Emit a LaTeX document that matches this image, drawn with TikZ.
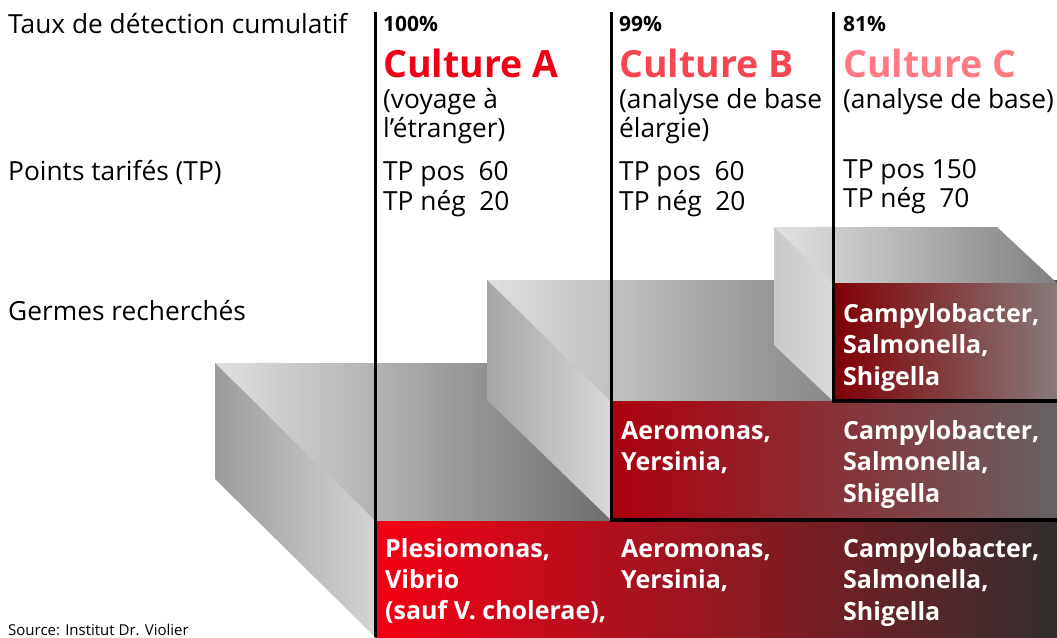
\documentclass[tikz,border=0pt]{standalone}
\usepackage{fontspec}
\setmainfont{Open Sans}
\usepackage{tikz}
\usetikzlibrary{positioning, calc}
\definecolor{cultA}{RGB}{240,0,20}
\definecolor{cultB}{RGB}{245,70,82}
\definecolor{cultC}{RGB}{255,122,132}
\tikzset{
  lbl_l/.style = {anchor=base west, inner sep=0pt, font=\fontsize{26.3}{30}\selectfont},
  pct_n/.style = {anchor=base west, inner sep=0pt, font=\fontsize{21}{25}\selectfont\bfseries},
  cul_n/.style = {anchor=base west, inner sep=0pt, font=\fontsize{37.5}{42}\selectfont\bfseries},
  germ_n/.style = {anchor=base west, inner sep=0pt, white, font=\fontsize{25}{29}\selectfont\bfseries},
  src_n/.style = {anchor=base west, inner sep=0pt, font=\fontsize{15}{18}\selectfont},
  rule_v/.style = {line width=3pt, black},
  rule_h/.style = {line width=4.5pt, black}
}
\begin{document}
\begin{tikzpicture}[x=1pt,y=-1pt]
  \useasboundingbox (0,0) rectangle (1057,637);

  % gray steps (back to front)
  \shade[left color=black!12, right color=black!57] (215,363) -- (611,363) -- (611,521) -- (375,521) -- cycle;
  \shade[left color=black!39, right color=black!17] (215,363) -- (375,521) -- (375,637) -- (215,479) -- cycle;
  \shade[left color=black!12, right color=black!70] (487,280) -- (1057,280) -- (1057,401) -- (611,401) -- cycle;
  \shade[left color=black!35, right color=black!15] (487,280) -- (611,401) -- (611,520) -- (487,400) -- cycle;
  \shade[left color=black!11, right color=black!50] (774,227) -- (997,227) -- (1057,283) -- (833,283) -- cycle;
  \shade[left color=black!21, right color=black!15] (774,227) -- (833,283) -- (833,401) -- (774,345) -- cycle;

  % front faces
  \shade[left color={rgb,255:red,245;green,0;blue,20}, right color={rgb,255:red,50;green,46;blue,46}] (375,521) rectangle (1057,637);
  \shade[left color={rgb,255:red,172;green,0;blue,14}, right color={rgb,255:red,102;green,98;blue,98}] (611,401) rectangle (1057,520);
  \shade[left color={rgb,255:red,128;green,0;blue,6}, right color={rgb,255:red,134;green,122;blue,122}] (833,283) rectangle (1057,401);

  % column rules
  \draw[rule_v] (375,12) -- (375,637);
  \draw[rule_v] (611,12) -- (611,521);
  \draw[rule_h] (609.5,520) -- (1057,520);
  \draw[rule_v] (833,12) -- (833,402);
  \draw[rule_h] (831.5,401) -- (1057,401);

  % row labels
  \node[lbl_l] (taux) at (8,33) {Taux de détection cumulatif};
  \node[lbl_l] (points) at (8,180) {Points tarifés (TP)};
  \node[lbl_l] (germes) at (8,320) {Germes recherchés};
  \node[src_n] (source) at (8,635) {Source: Institut Dr. Violier};

  % column A
  \node[pct_n] (pctA) at (383,31) {100\%};
  \node[cul_n, cultA] (cultA) at (383,77) {Culture A};
  \node[lbl_l] (descA1) at (383,108) {(voyage à};
  \node[lbl_l] (descA2) at (383,137) {l’étranger)};
  \node[lbl_l] (posA) at (383,180) {TP pos\ \ 60};
  \node[lbl_l] (negA) at (383,210) {TP nég\ \ 20};

  % column B
  \node[pct_n] (pctB) at (619,31) {99\%};
  \node[cul_n, cultB] (cultB) at (619,77) {Culture B};
  \node[lbl_l] (descB1) at (619,108) {(analyse de base};
  \node[lbl_l] (descB2) at (619,137) {élargie)};
  \node[lbl_l] (posB) at (619,180) {TP pos\ \ 60};
  \node[lbl_l] (negB) at (619,210) {TP nég\ \ 20};

  % column C
  \node[pct_n] (pctC) at (843,31) {81\%};
  \node[cul_n, cultC] (cultC) at (843,77) {Culture C};
  \node[lbl_l] (descC1) at (843,108) {(analyse de base)};
  \node[lbl_l] (posC) at (843,178) {TP pos 150};
  \node[lbl_l] (negC) at (843,207) {TP nég\ \ 70};

  % germs
  \node[germ_n] (plesio) at (385,557) {Plesiomonas,};
  \node[germ_n] (vibrio) at (385,588) {Vibrio};
  \node[germ_n] (sauf) at (385,619) {(sauf V. cholerae),};
  \foreach \y/\n in {439/B, 557/A} {
    \node[germ_n] (aero\n) at (621,\y) {Aeromonas,};
    \node[germ_n] (yers\n) at (621,\y+31) {Yersinia,};
  }
  \foreach \y/\n in {322/C, 439/B, 557/A} {
    \node[germ_n] (campy\n) at (843,\y) {Campylobacter,};
    \node[germ_n] (salmo\n) at (843,\y+31.5) {Salmonella,};
    \node[germ_n] (shig\n) at (843,\y+63) {Shigella};
  }
\end{tikzpicture}
\end{document}
